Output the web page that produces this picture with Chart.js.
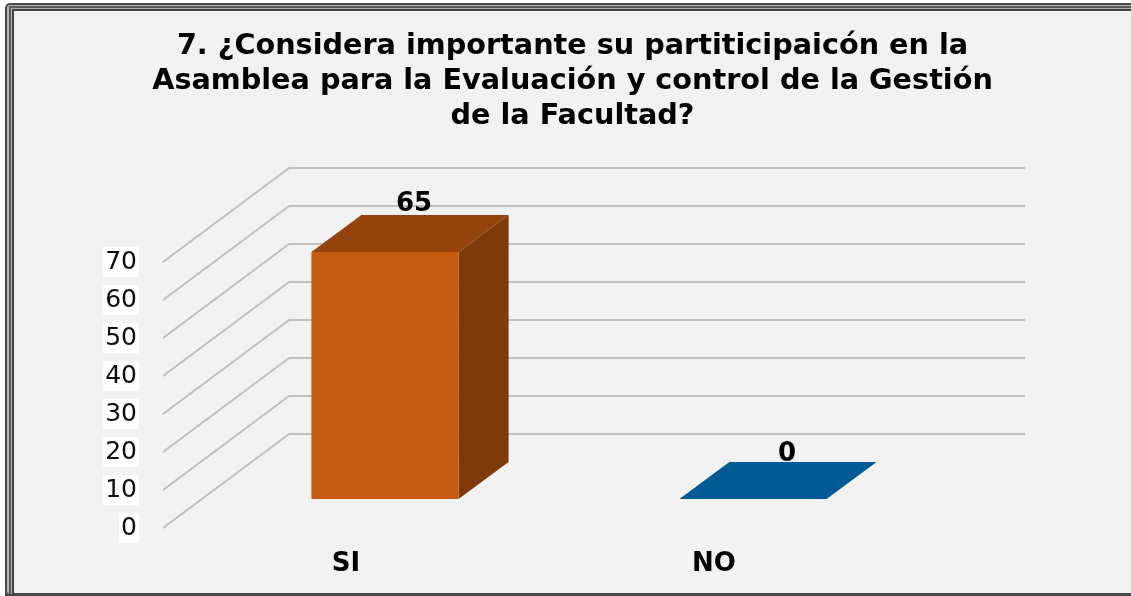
<!DOCTYPE html>
<html lang="es">
<head>
<meta charset="utf-8">
<title>Chart</title>
<script src="https://cdn.jsdelivr.net/npm/chart.js@4"></script>
<style>
html,body{margin:0;padding:0;background:#fff;width:1131px;height:596px;overflow:hidden}
#stage{position:relative;width:1131px;height:596px;overflow:hidden}
.f{position:absolute;box-sizing:border-box}
#canvas{position:absolute;left:0;top:0}
</style>
</head>
<body>
<div id="stage">
  <div class="f" style="left:5px;top:3px;width:1160px;height:620px;border-radius:5px;background:#4a4a4a"></div>
  <div class="f" style="left:7px;top:5px;width:1160px;height:589px;border-radius:3px;background:#b5b5b5"></div>
  <div class="f" style="left:9px;top:6px;width:1160px;height:588px;background:#5c5c5c"></div>
  <div class="f" style="left:11px;top:8px;width:1160px;height:586px;background:#b0b0b0"></div>
  <div class="f" style="left:12px;top:9px;width:1160px;height:585px;background:#444"></div>
  <div class="f" style="left:14px;top:11px;width:1160px;height:582px;background:#f2f2f2"></div>
  <canvas id="canvas" width="1131" height="596"></canvas>
</div>
<script>
const titleLines = [
  '7. ¿Considera importante su partiticipaicón en la',
  'Asamblea para la Evaluación y control de la Gestión',
  'de la Facultad?'
];
const categories = ['SI', 'NO'];
const values = [65, 0];
const frontColors = ['#c55a11', '#005a94'];
const topColors = ['#94430c', '#005a94'];
const sideColors = ['#7f3a09', '#00456f'];
const yMin = 0;
const yMax = 70;
const yStep = 10;

const FONT = '"DejaVu Sans", Verdana, sans-serif';
const WALL_DX = 127, WALL_DY = -94;      // oblique depth of the whole plot
const BAR_OX = 39, BAR_OY = -29;         // where the bars sit on the floor
const BAR_DX = 50, BAR_DY = -37;         // depth of one bar
const LABEL_DX = [68, 73], LABEL_BASE = [4, 1];

const depthPlugin = {
  id: 'depth',
  afterLayout(chart) {
    chart.titleBlock.left = 14;
    chart.titleBlock.right = 1131;
  },
  beforeDatasetsDraw(chart) {
    const { ctx, chartArea: a, scales: { y } } = chart;
    ctx.save();
    ctx.strokeStyle = '#bfbfbf';
    ctx.lineWidth = 2;
    ctx.lineJoin = 'round';
    y.ticks.forEach(t => {
      const p = y.getPixelForValue(t.value);
      ctx.beginPath();
      ctx.moveTo(a.left + 1, p);
      ctx.lineTo(a.left + WALL_DX, p + WALL_DY);
      ctx.lineTo(a.right + WALL_DX, p + WALL_DY);
      ctx.stroke();
    });
    ctx.restore();
  },
  beforeDatasetDraw(chart, args) {
    const { ctx } = chart;
    const bars = chart.getDatasetMeta(args.index).data;
    ctx.save();
    ctx.translate(BAR_OX, BAR_OY);
    bars.forEach((b, i) => {
      const l = b.x - b.width / 2, r = b.x + b.width / 2;
      ctx.fillStyle = topColors[i];
      ctx.beginPath();
      ctx.moveTo(l, b.y);
      ctx.lineTo(l + BAR_DX, b.y + BAR_DY);
      ctx.lineTo(r + BAR_DX, b.y + BAR_DY);
      ctx.lineTo(r, b.y);
      ctx.closePath();
      ctx.fill();
      if (b.base - b.y > 0) {
        ctx.fillStyle = sideColors[i];
        ctx.beginPath();
        ctx.moveTo(r, b.y);
        ctx.lineTo(r + BAR_DX, b.y + BAR_DY);
        ctx.lineTo(r + BAR_DX, b.base + BAR_DY);
        ctx.lineTo(r, b.base);
        ctx.closePath();
        ctx.fill();
      }
    });
  },
  afterDatasetDraw(chart, args) {
    const { ctx } = chart;
    ctx.restore();
    const bars = chart.getDatasetMeta(args.index).data;
    ctx.save();
    ctx.fillStyle = '#000';
    ctx.font = 'bold 26px ' + FONT;
    ctx.textAlign = 'center';
    ctx.textBaseline = 'alphabetic';
    bars.forEach((b, i) => {
      ctx.fillText(String(values[i]), b.x + LABEL_DX[i], b.y + BAR_OY + BAR_DY - LABEL_BASE[i]);
    });
    ctx.restore();
  }
};

new Chart(document.getElementById('canvas'), {
  type: 'bar',
  data: {
    labels: categories,
    datasets: [{
      data: values,
      backgroundColor: frontColors,
      borderWidth: 0,
      barPercentage: 0.4,
      categoryPercentage: 1,
      clip: false
    }]
  },
  plugins: [depthPlugin],
  options: {
    responsive: false,
    animation: false,
    events: [],
    layout: { autoPadding: false, padding: { left: 0, top: 0, bottom: 0, right: 233 } },
    plugins: {
      legend: { display: false },
      tooltip: { enabled: false },
      title: {
        display: true,
        text: titleLines,
        color: '#000000',
        font: { family: FONT, size: 28.7, weight: 'bold', lineHeight: 35 / 28.7 },
        padding: { top: 29, bottom: 128 }
      }
    },
    scales: {
      x: {
        grid: { display: false },
        border: { display: false },
        ticks: {
          color: '#000000',
          font: { family: FONT, size: 26, weight: 'bold' },
          padding: 13,
          maxRotation: 0,
          autoSkip: false
        },
        afterFit(s) { s.height = 68; }
      },
      y: {
        min: yMin,
        max: yMax,
        grid: { display: false, drawTicks: false, tickLength: 0 },
        border: { display: false },
        ticks: {
          stepSize: yStep,
          color: '#0d0d0d',
          font: { family: FONT, size: 25 },
          padding: 25,
          showLabelBackdrop: true,
          backdropColor: '#ffffff',
          backdropPadding: { x: 2, y: 0 }
        },
        afterFit(s) { s.width = 162; }
      }
    }
  }
});
</script>
</body>
</html>
